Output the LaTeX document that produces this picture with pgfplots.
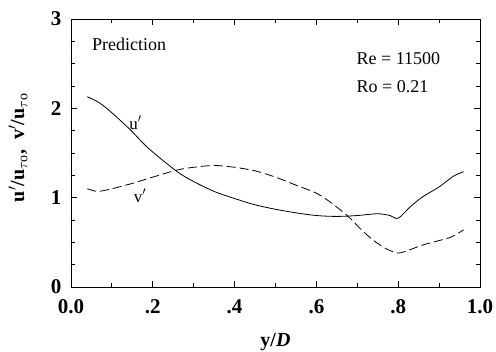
\documentclass[border=0pt]{standalone}
\usepackage{fontspec}
\setmainfont{Liberation Serif}
\usepackage{pgfplots}
\pgfplotsset{compat=1.18}

\begin{document}
\begin{tikzpicture}
\path[use as bounding box] (-71pt,-65pt) rectangle (425pt,287pt);
\begin{axis}[
  at={(0,0)}, anchor=south west,
  scale only axis,
  width=409pt, height=268pt,
  xmin=0, xmax=1, ymin=0, ymax=3,
  xtick={0,0.2,0.4,0.6,0.8,1.0},
  xticklabels={0.0,.2,.4,.6,.8,1.0},
  ytick={0,1,2,3},
  minor xtick={0.1,0.3,0.5,0.7,0.9},
  minor ytick={0.25,0.5,0.75,1.25,1.5,1.75,2.25,2.5,2.75},
  tick align=inside,
  major tick length=6pt,
  minor tick length=4pt,
  axis line style={line width=0.9pt},
  every tick/.style={line width=0.8pt, black},
  /pgf/number format/assume math mode=true,
  tick label style={font=\fontsize{21}{24}\selectfont\bfseries},
  xticklabel style={yshift=-9pt},
  yticklabel style={xshift=-6pt},
  xlabel={\bfseries y/\textit{D}},
  xlabel style={font=\fontsize{20}{22}\selectfont, at={(axis description cs:0.5,0)}, anchor=north, yshift=-43pt},
  ylabel={\bfseries u$'$/u$_{\tau\mathrm{o}}$,\ \ v$'$/u$_{\tau\mathrm{o}}$},
  ylabel style={font=\fontsize{20}{22}\selectfont, at={(axis description cs:0,0.52)}, anchor=south, yshift=40pt},
]
% streamwise fluctuation
\addplot[black, line width=0.8pt, smooth, tension=0.5] coordinates {
 (0.04,2.13) (0.07,2.06) (0.10,1.95) (0.145,1.76) (0.19,1.55) (0.26,1.29)
 (0.30,1.18) (0.35,1.07) (0.40,0.99) (0.45,0.92) (0.50,0.87) (0.55,0.83)
 (0.60,0.80) (0.65,0.79) (0.70,0.80) (0.75,0.82) (0.78,0.80) (0.80,0.77)
 (0.83,0.90) (0.86,1.01) (0.90,1.12) (0.935,1.24) (0.96,1.29)
};
% cross-stream fluctuation
\addplot[black, line width=0.8pt, dash pattern=on 9pt off 4pt, smooth, tension=0.5] coordinates {
 (0.04,1.10) (0.065,1.07) (0.10,1.10) (0.15,1.16) (0.20,1.23) (0.26,1.31)
 (0.30,1.34) (0.35,1.36) (0.40,1.34) (0.45,1.30) (0.50,1.23) (0.55,1.14)
 (0.60,1.05) (0.64,0.93) (0.68,0.78) (0.71,0.64) (0.74,0.52) (0.77,0.43)
 (0.80,0.38) (0.83,0.42) (0.86,0.47) (0.90,0.52) (0.93,0.56) (0.96,0.64)
};
\node[anchor=west, font=\fontsize{18}{20}\selectfont] at (axis cs:0.043,2.72) {Prediction};
\node[anchor=west, font=\fontsize{18}{20}\selectfont] at (axis cs:0.69,2.56) {Re = 11500};
\node[anchor=west, font=\fontsize{18}{20}\selectfont] at (axis cs:0.69,2.24) {Ro = 0.21};
\node[font=\fontsize{17}{20}\selectfont] at (axis cs:0.158,1.84) {u$'$};
\node[font=\fontsize{17}{20}\selectfont] at (axis cs:0.169,1.02) {v$'$};
\end{axis}
\end{tikzpicture}
\end{document}
